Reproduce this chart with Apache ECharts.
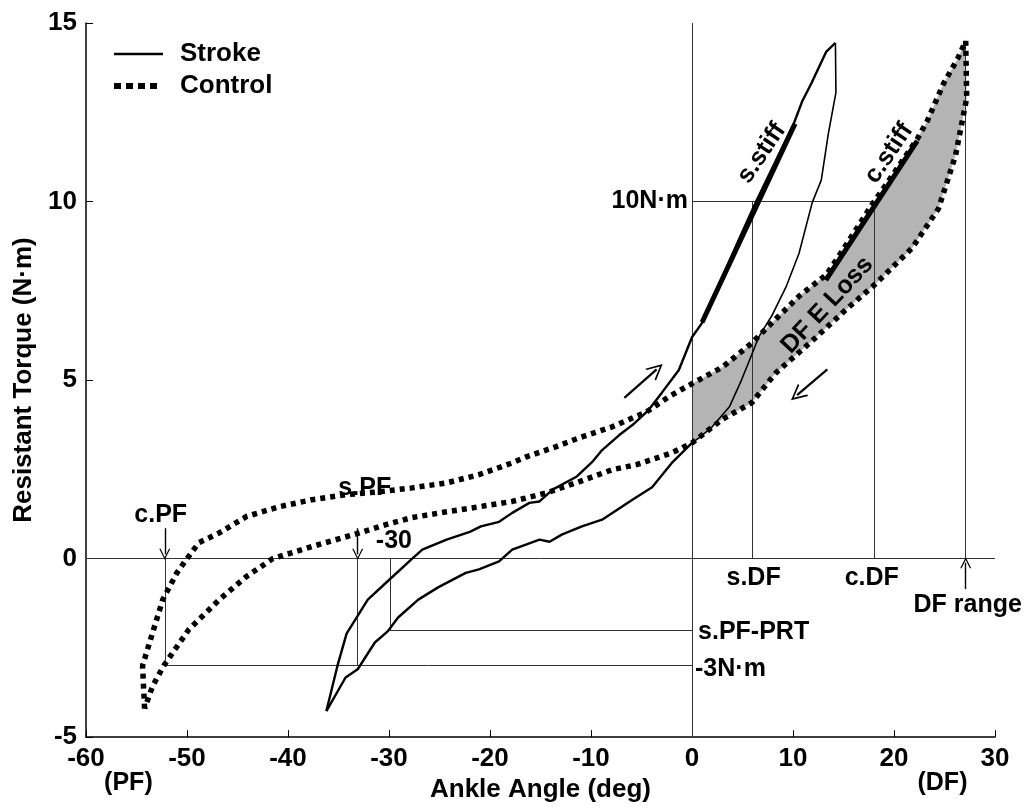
<!DOCTYPE html>
<html>
<head>
<meta charset="utf-8">
<title>Resistant Torque vs Ankle Angle</title>
<style>
html, body {
  margin: 0;
  padding: 0;
  background: #fff;
}
#chart {
  width: 1024px;
  height: 808px;
}
</style>
</head>
<body>
<div id="chart"></div>
<script src="https://cdn.jsdelivr.net/npm/echarts@6/dist/echarts.min.js"></script>
<script type="text/javascript">

// axis ticks
var xTicks = [-60, -50, -40, -30, -20, -10, 0, 10, 20, 30];
var yTicks = [-5, 0, 5, 10, 15];

// stroke loop: loading (PF -> DF) and unloading (DF -> PF), [deg, N.m]
var strokeLoad = [
  [-36.2, -4.27], [-35.1, -3.0], [-34.2, -2.1], [-32.1, -1.15], [-30.0, -0.6],
  [-27.7, 0.0], [-26.7, 0.25], [-24.3, 0.53], [-22.0, 0.75], [-20.9, 0.9],
  [-19.1, 1.03], [-17.8, 1.28], [-16.1, 1.56], [-15.1, 1.6], [-13.8, 1.93],
  [-11.4, 2.3], [-9.9, 2.7], [-8.9, 3.04], [-7.2, 3.46], [-5.9, 3.74],
  [-4.3, 4.16], [-3.0, 4.64], [-1.3, 5.28], [0.0, 6.2], [1.0, 6.6],
  [4.9, 9.1], [6.3, 9.97], [10.1, 12.2], [10.9, 12.8], [11.8, 13.3],
  [13.3, 14.2], [14.2, 14.44]
];
var strokeUnloadTop = [
  [14.2, 14.44], [14.25, 13.05], [13.5, 11.9], [12.8, 10.6], [11.9, 9.97],
  [10.6, 8.55], [9.3, 7.6], [7.9, 6.8], [6.6, 6.2], [5.9, 5.7],
  [4.9, 5.0], [3.7, 4.25], [2.0, 3.69], [0.7, 3.38], [0.0, 3.24]
];
var strokeUnloadLow = [
  [0.0, 3.24], [-2.0, 2.68], [-3.95, 2.0], [-5.9, 1.65], [-8.9, 1.09], [-10.9, 0.9],
  [-12.9, 0.67], [-14.1, 0.47], [-15.1, 0.53], [-17.8, 0.25], [-19.1, -0.08],
  [-21.1, -0.3], [-22.4, -0.4], [-25.1, -0.8], [-27.1, -1.15], [-29.1, -1.65],
  [-30.1, -2.03], [-31.4, -2.35], [-33.1, -3.1], [-34.3, -3.33], [-36.2, -4.27]
];

// control loop
var controlLoad = [
  [-54.2, -4.2], [-54.4, -3.0], [-53.4, -2.07], [-52.4, -1.15], [-51.0, -0.4],
  [-50.0, 0.0], [-48.8, 0.45], [-46.8, 0.72], [-44.1, 1.18], [-40.9, 1.45],
  [-37.6, 1.65], [-34.2, 1.79], [-31.0, 1.87], [-27.7, 1.98], [-24.3, 2.12],
  [-21.1, 2.35], [-17.8, 2.68], [-16.4, 2.85], [-13.5, 3.13], [-11.2, 3.38],
  [-7.9, 3.69], [-4.55, 4.1], [-2.3, 4.53], [0.0, 4.9], [3.0, 5.36],
  [5.9, 6.03], [7.9, 6.6], [10.6, 7.35], [13.3, 7.95], [14.6, 8.5],
  [16.2, 9.2], [17.8, 9.9], [20.0, 10.8], [22.3, 11.75], [23.3, 12.26],
  [24.9, 13.3], [26.3, 14.0], [27.1, 14.5]
];
var controlUnload = [
  [27.1, 14.5], [27.2, 12.9], [26.1, 11.3], [24.4, 9.8], [21.8, 8.7],
  [18.2, 7.7], [15.2, 6.96], [11.9, 6.1], [8.3, 5.2], [5.9, 4.36],
  [3.0, 3.9], [0.0, 3.24], [-2.0, 2.96], [-5.5, 2.63], [-7.9, 2.49],
  [-11.2, 2.15], [-14.4, 1.84], [-17.8, 1.6], [-21.1, 1.45], [-24.3, 1.31],
  [-27.7, 1.15], [-30.3, 0.95], [-32.9, 0.72], [-37.6, 0.34], [-41.5, 0.0],
  [-44.1, -0.5], [-46.8, -1.15], [-49.8, -1.98], [-51.4, -2.63], [-52.3, -3.0],
  [-53.4, -3.57], [-54.2, -4.2]
];

// stiffness fits (thick segments)
var sStiff = [[1.0, 6.62], [10.2, 12.18]];
var cStiff = [[13.25, 7.8], [22.3, 11.7]];

// reference / construction lines
var refSegments = [
  [[0, -5], [0, 15]],
  [[-60, 0], [30, 0]],
  [[0, 10], [18, 10]],
  [[6, 0], [6, 10]],
  [[18, 0], [18, 10]],
  [[27.1, 0], [27.1, 14.4]],
  [[-52.2, 0], [-52.2, -3]],
  [[-52.2, -3], [0, -3]],
  [[-33.1, 0], [-33.1, -3]],
  [[-29.9, 0], [-29.9, -2]],
  [[-29.9, -2], [0, -2]]
];

// direction arrows along the loops
var dirArrows = [
  [[-6.7, 4.5], [-3.5, 5.3]],
  [[13.4, 5.3], [10.4, 4.58]]
];
// small pointer arrows at c.PF, s.PF and DF range
var markArrows = [
  [[-52.2, 0.85], [-52.2, 0.12]],
  [[-33.1, 0.85], [-33.1, 0.12]],
  [[27.1, -0.85], [27.1, -0.12]]
];

var FONT = '"Liberation Sans", Arial, Helvetica, sans-serif';

// text annotations, anchored in data coordinates
var notes = [
  {text: '10N\u00b7m', at: [-0.4, 10], align: 'right'},
  {text: 's.stiff', at: [6.9, 11.35], rot: 56},
  {text: 'c.stiff', at: [19.5, 11.35], rot: 56},
  {text: 'DF E Loss', at: [13.4, 7.1], rot: 47},
  {text: 's.DF', at: [6.1, -0.55]},
  {text: 'c.DF', at: [17.8, -0.55]},
  {text: 'DF range', at: [27.3, -1.3]},
  {text: 's.PF-PRT', at: [0.6, -2.07], align: 'left'},
  {text: '-3N\u00b7m', at: [0.3, -3.1], align: 'left'},
  {text: 'c.PF', at: [-52.6, 1.23]},
  {text: 's.PF', at: [-32.4, 1.98]},
  {text: '-30', at: [-31.3, 0.5], align: 'left'},
  {text: '(PF)', at: [-55.8, -6.3]},
  {text: '(DF)', at: [24.8, -6.3]}
];

// shaded DF energy loss: control loop for angles >= 0
var shadeUpper = controlLoad.filter(function (p) { return p[0] >= 0; });
var shadeLower = controlUnload.filter(function (p) { return p[0] >= 0; });
var shadePoly = shadeUpper.concat(shadeLower);

var myChart = echarts.init(document.getElementById('chart'));

var labelFont = {fontSize: 26, fontWeight: 'bold', color: '#000', fontFamily: FONT};
var dotStyle = {color: '#000', width: 5.5, type: [5, 5], cap: 'butt'};
var chevron = 'path://M0,0L10,13L7.6,13L0,3L-7.6,13L-10,13Z';

var option = {
  backgroundColor: '#fff',
  animation: false,
  textStyle: {fontFamily: FONT},
  grid: {left: 86, right: 29, top: 23, bottom: 69, containLabel: false},
  // legend drawn by hand so the samples carry no symbols
  graphic: [
    {type: 'line', shape: {x1: 114, y1: 54, x2: 163, y2: 54}, style: {stroke: '#000', lineWidth: 2.4}},
    {type: 'line', shape: {x1: 114, y1: 86, x2: 160, y2: 86}, style: {stroke: '#000', lineWidth: 6, lineDash: [7, 5]}},
    {type: 'text', x: 180, y: 54, style: {text: 'Stroke', font: 'bold 26px ' + FONT, fill: '#000', verticalAlign: 'middle'}},
    {type: 'text', x: 180, y: 86, style: {text: 'Control', font: 'bold 26px ' + FONT, fill: '#000', verticalAlign: 'middle'}}
  ],
  xAxis: {
    type: 'value',
    min: -60,
    max: 30,
    interval: 10,
    name: 'Ankle Angle (deg)',
    nameLocation: 'middle',
    nameGap: 38,
    nameTextStyle: labelFont,
    axisLine: {onZero: false, lineStyle: {color: '#000', width: 1.5}},
    axisTick: {inside: true, length: 7, lineStyle: {color: '#000', width: 1}},
    axisLabel: {
      fontSize: 26, fontWeight: 'bold', color: '#000', margin: 9, fontFamily: FONT,
      customValues: xTicks
    },
    splitLine: {show: false}
  },
  yAxis: {
    type: 'value',
    min: -5,
    max: 15,
    interval: 5,
    name: 'Resistant Torque (N\u00b7m)',
    nameLocation: 'middle',
    nameGap: 48,
    nameTextStyle: labelFont,
    axisLine: {onZero: false, lineStyle: {color: '#000', width: 1.5}},
    axisTick: {inside: true, length: 7, lineStyle: {color: '#000', width: 1}},
    axisLabel: {
      fontSize: 26, fontWeight: 'bold', color: '#000', margin: 9, fontFamily: FONT,
      customValues: yTicks
    },
    splitLine: {show: false}
  },
  series: [
    {
      name: 'DF E Loss',
      type: 'custom',
      silent: true,
      z: 1,
      data: [[0, 0]],
      renderItem: function (params, api) {
        var pts = shadePoly.map(function (p) { return api.coord(p); });
        return {
          type: 'polygon',
          shape: {points: pts},
          style: {fill: '#b4b4b4', stroke: null}
        };
      }
    },
    {
      name: 'refs',
      type: 'lines',
      coordinateSystem: 'cartesian2d',
      silent: true,
      z: 2,
      lineStyle: {color: '#333', width: 1, opacity: 1},
      data: refSegments.map(function (s) { return {coords: s}; })
    },
    {
      name: 'Control',
      type: 'line',
      data: controlLoad,
      showSymbol: false,
      symbol: 'none',
      z: 3,
      lineStyle: dotStyle
    },
    {
      name: 'Control',
      type: 'line',
      data: controlUnload,
      showSymbol: false,
      symbol: 'none',
      z: 3,
      lineStyle: dotStyle
    },
    {
      name: 'Stroke',
      type: 'line',
      data: strokeLoad,
      showSymbol: false,
      symbol: 'none',
      z: 4,
      lineStyle: {color: '#000', width: 2.4}
    },
    {
      name: 'Stroke',
      type: 'line',
      data: strokeUnloadTop,
      showSymbol: false,
      symbol: 'none',
      z: 4,
      lineStyle: {color: '#000', width: 1.6}
    },
    {
      name: 'Stroke',
      type: 'line',
      data: strokeUnloadLow,
      showSymbol: false,
      symbol: 'none',
      z: 4,
      lineStyle: {color: '#000', width: 2.4}
    },
    {
      name: 's.stiff',
      type: 'line',
      data: sStiff,
      symbol: 'none',
      z: 5,
      lineStyle: {color: '#000', width: 5}
    },
    {
      name: 'c.stiff',
      type: 'line',
      data: cStiff,
      symbol: 'none',
      z: 5,
      lineStyle: {color: '#000', width: 5}
    },
    {
      name: 'arrows',
      type: 'lines',
      coordinateSystem: 'cartesian2d',
      silent: true,
      z: 6,
      symbol: ['none', chevron],
      symbolSize: 16,
      lineStyle: {color: '#000', width: 2.2, opacity: 1},
      itemStyle: {color: '#000'},
      data: dirArrows.map(function (s) { return {coords: s}; })
    },
    {
      name: 'pointers',
      type: 'lines',
      coordinateSystem: 'cartesian2d',
      silent: true,
      z: 6,
      symbol: ['none', chevron],
      symbolSize: 11,
      lineStyle: {color: '#000', width: 1.4, opacity: 1},
      itemStyle: {color: '#000'},
      data: markArrows.map(function (s) { return {coords: s}; })
    },
    {
      name: 'notes',
      type: 'custom',
      silent: true,
      clip: false,
      z: 10,
      data: notes.map(function (n) { return n.at; }),
      renderItem: function (params, api) {
        var n = notes[params.dataIndex];
        var p = api.coord(n.at);
        return {
          type: 'text',
          x: p[0],
          y: p[1],
          rotation: (n.rot || 0) * Math.PI / 180,
          style: {
            text: n.text,
            fill: '#000',
            fontFamily: FONT,
            fontSize: 25,
            fontWeight: 'bold',
            align: n.align || 'center',
            verticalAlign: 'middle'
          }
        };
      }
    }
  ]
};

if (option && typeof option === "object") {
  myChart.setOption(option, true);
}
</script>
</body>
</html>
